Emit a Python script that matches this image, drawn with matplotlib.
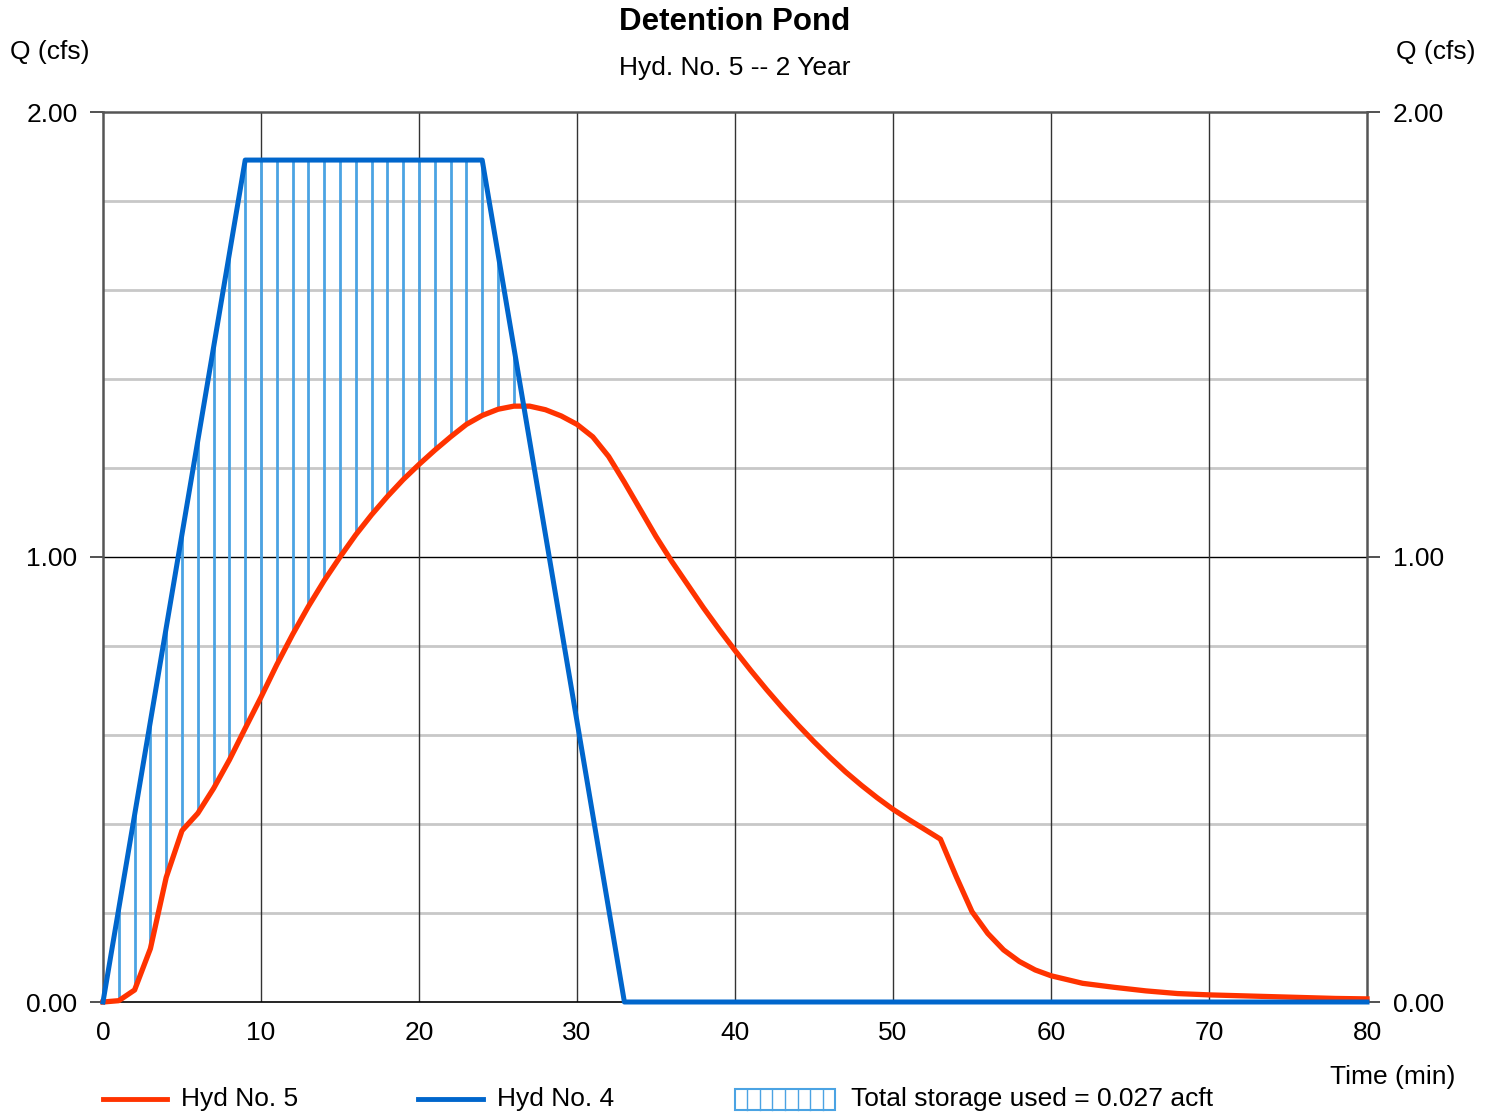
import numpy as np
import matplotlib
matplotlib.use("Agg")
import matplotlib.pyplot as plt
from matplotlib.lines import Line2D
from matplotlib.patches import Rectangle

plt.rcParams['font.family'] = ['Liberation Sans', 'DejaVu Sans']

# outflow hydrograph (Hyd No. 5), cfs by minute
out_t = list(range(0, 61)) + [62, 64, 66, 68, 70, 72, 74, 76, 78, 80]
out_q = [0.0, 0.003, 0.027, 0.12, 0.28, 0.385, 0.424, 0.48, 0.544, 0.615,
         0.685, 0.758, 0.826, 0.889, 0.947, 1.0, 1.05, 1.095, 1.136, 1.174,
         1.208, 1.24, 1.27, 1.298, 1.318, 1.332, 1.339, 1.339, 1.331, 1.317,
         1.298, 1.27, 1.226, 1.168, 1.107, 1.046, 0.99, 0.938, 0.886, 0.837,
         0.79, 0.745, 0.702, 0.661, 0.622, 0.585, 0.55, 0.517, 0.487, 0.459,
         0.433, 0.41, 0.388, 0.366, 0.282, 0.203, 0.154, 0.117, 0.091, 0.072,
         0.059, 0.042, 0.033, 0.025, 0.019, 0.016, 0.014, 0.012, 0.010, 0.008,
         0.007]

# inflow hydrograph (Hyd No. 4), break points
in_t = [0, 9, 24, 33, 80]
in_q = [0.0, 1.892, 1.892, 0.0, 0.0]

RED = '#ff3300'
BLUE = '#0066cc'
HATCH = '#4ba3e3'

W, H = 1494, 1114
fig = plt.figure(figsize=(W / 100, H / 100), dpi=100)
ax = fig.add_axes([103 / W, 112 / H, 1264 / W, 890 / H])

# grid
for y in np.arange(0.2, 2.0, 0.2):
    if abs(y - 1.0) < 1e-6:
        ax.axhline(y, color='black', lw=1.0, zorder=1)
    else:
        ax.axhline(y, color='#c8c8c8', lw=2.0, zorder=1)
for x in range(10, 80, 10):
    ax.axvline(x, color='#333333', lw=1.0, zorder=1)

# storage hatching: vertical line each minute where inflow > outflow
tt = np.array(out_t)
qo = np.array(out_q)
qi = np.interp(tt, in_t, in_q)
m = (qi > qo) & (tt > 0)
ax.vlines(tt[m], qo[m], qi[m], color=HATCH, lw=2.0, zorder=2)

ax.plot(out_t, out_q, color=RED, lw=3.8, zorder=3, clip_on=False)
ax.plot(in_t, in_q, color=BLUE, lw=3.6, zorder=4, clip_on=False)

ax.set_xlim(0, 80)
ax.set_ylim(0, 2)
ax.set_xticks(range(0, 81, 10))
ax.set_yticks([0, 1, 2])
ax.set_yticklabels(['0.00', '1.00', '2.00'])
ax.tick_params(axis='x', length=0, pad=14, labelsize=19)
ax.tick_params(axis='y', direction='out', length=9.4, width=1.2, pad=9,
               labelsize=19, left=True, right=True, labelleft=True,
               labelright=True, color='#333333')

for s in ['left', 'right', 'top']:
    ax.spines[s].set_color('#555555')
    ax.spines[s].set_linewidth(1.8)
ax.spines['bottom'].set_color('black')
ax.spines['bottom'].set_linewidth(1.2)


def fx(px):
    return px / W


def fy(py):
    return 1 - py / H


fig.text(fx(735), fy(22), 'Detention Pond', fontsize=22.5, fontweight='bold',
         ha='center', va='center')
fig.text(fx(735), fy(68), 'Hyd. No. 5 -- 2 Year', fontsize=19,
         ha='center', va='center')
fig.text(fx(10), fy(52), 'Q (cfs)', fontsize=19, ha='left', va='center')
fig.text(fx(1476), fy(52), 'Q (cfs)', fontsize=19, ha='right', va='center')
fig.text(fx(1455), fy(1077), 'Time (min)', fontsize=19, ha='right', va='center')

# legend row
ly = fy(1099)
fig.add_artist(Line2D([fx(103), fx(167)], [ly, ly], color=RED, lw=3.5,
                      transform=fig.transFigure))
fig.text(fx(181), ly, 'Hyd No. 5', fontsize=19, ha='left', va='center')
fig.add_artist(Line2D([fx(418), fx(483)], [ly, ly], color=BLUE, lw=3.5,
                      transform=fig.transFigure))
fig.text(fx(497), ly, 'Hyd No. 4', fontsize=19, ha='left', va='center')
fig.add_artist(Rectangle((fx(735), fy(1110)), fx(100), 21 / H,
                         fill=False, edgecolor=HATCH, lw=1.5,
                         transform=fig.transFigure))
for px in np.linspace(747, 823, 7):
    fig.add_artist(Line2D([fx(px), fx(px)], [fy(1110), fy(1089)],
                          color=HATCH, lw=1.0, transform=fig.transFigure))
fig.text(fx(851), ly, 'Total storage used = 0.027 acft', fontsize=19,
         ha='left', va='center')

fig.savefig('out.png', dpi=100)
